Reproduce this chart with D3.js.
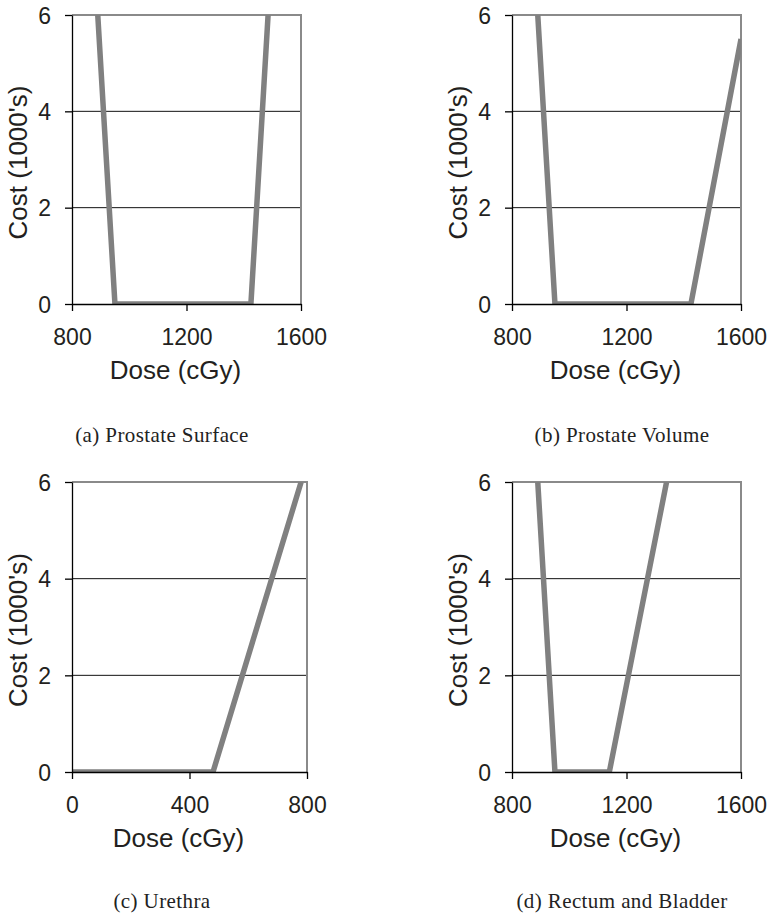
<!DOCTYPE html>
<html>
<head>
<meta charset="utf-8">
<script src="https://cdn.jsdelivr.net/npm/d3@7"></script>
<style>
  body { margin: 0; background: #fff; }
  svg text { font-family: "Liberation Sans", Arial, sans-serif; fill: #231f20; }
  svg text.caption { font-family: "Liberation Serif", "DejaVu Serif", serif; fill: #222; }
</style>
</head>
<body>
<div id="viz"></div>
<script>
const width = 770;
const height = 920;

// values: [dose (cGy), cost (1000's)]
const captions = ['(a) Prostate Surface', '(b) Prostate Volume', '(c) Urethra', '(d) Rectum and Bladder'];
const xDomains = [[800, 1600], [800, 1600], [0, 800], [800, 1600]];
const xTicks = [[800, 1200, 1600], [800, 1200, 1600], [0, 400, 800], [800, 1200, 1600]];
const yTicks = [0, 2, 4, 6];
const surfaceCost = [[890, 6], [950, 0], [1425, 0], [1485, 6]];
const volumeCost = [[890, 6], [950, 0], [1425, 0], [1600, 5.5]];
const urethraCost = [[0, 0], [480, 0], [780, 6]];
const rectumCost = [[890, 6], [950, 0], [1140, 0], [1340, 6]];
const series = [surfaceCost, volumeCost, urethraCost, rectumCost];

// plot boxes for each panel
const boxes = [
  {left: 72, right: 301, top: 15, bottom: 304, capX: 162, capY: 442},
  {left: 512, right: 741, top: 15, bottom: 304, capX: 622, capY: 442},
  {left: 72, right: 307, top: 482, bottom: 772, capX: 162, capY: 908},
  {left: 512, right: 741, top: 482, bottom: 772, capX: 622, capY: 908}
];

const svg = d3.select('#viz')
  .append('svg')
    .attr('width', width)
    .attr('height', height);

boxes.forEach((b, i) => {
  const x = d3.scaleLinear().domain(xDomains[i]).range([b.left, b.right]);
  const y = d3.scaleLinear().domain([0, 6]).range([b.bottom, b.top]);
  const g = svg.append('g');

  // gridlines at 2 and 4
  g.selectAll('line.grid')
    .data(yTicks.filter(t => t > 0 && t < 6))
    .join('line')
      .attr('x1', b.left).attr('x2', b.right)
      .attr('y1', d => y(d)).attr('y2', d => y(d))
      .attr('stroke', '#111').attr('stroke-width', 1);

  // top + right border (grey)
  g.append('path')
    .attr('d', `M${b.left},${b.top}H${b.right}V${b.bottom}`)
    .attr('fill', 'none')
    .attr('stroke', '#8a8a8a')
    .attr('stroke-width', 2);

  // clip the data line to the plot area
  g.append('clipPath').attr('id', 'clip' + i)
    .append('rect')
      .attr('x', b.left).attr('y', b.top)
      .attr('width', b.right - b.left).attr('height', b.bottom - b.top);

  const line = d3.line().x(d => x(d[0])).y(d => y(d[1]));
  g.append('path')
    .datum(series[i])
    .attr('clip-path', `url(#clip${i})`)
    .attr('d', line)
    .attr('fill', 'none')
    .attr('stroke', '#808080')
    .attr('stroke-width', 5.5)
    .attr('stroke-linejoin', 'miter');

  // axes
  const xAxis = g.append('g')
    .attr('transform', `translate(0,${b.bottom})`)
    .call(d3.axisBottom(x).tickValues(xTicks[i]).tickFormat(d3.format('d')).tickSize(7).tickSizeOuter(0));
  const yAxis = g.append('g')
    .attr('transform', `translate(${b.left},0)`)
    .call(d3.axisLeft(y).tickValues(yTicks).tickFormat(d3.format('d')).tickSize(7).tickSizeOuter(0));
  [xAxis, yAxis].forEach(a => {
    a.select('.domain').attr('stroke', '#000').attr('stroke-width', 1.3);
    a.selectAll('.tick line').attr('stroke', '#000').attr('stroke-width', 1.3);
    a.selectAll('.tick text').style('font-size', '23px').attr('fill', '#231f20');
  });
  xAxis.selectAll('.tick text').attr('y', 25).attr('dy', '0.71em');
  yAxis.selectAll('.tick text').attr('x', -21).attr('dy', '0.36em');

  // axis titles
  g.append('text')
    .attr('x', (b.left + b.right) / 2 - 11)
    .attr('y', b.bottom + 75)
    .attr('text-anchor', 'middle')
    .style('font-size', '26px')
    .text('Dose (cGy)');
  g.append('text')
    .attr('transform', `translate(${b.left - 45},${(b.top + b.bottom) / 2 + 3}) rotate(-90)`)
    .attr('text-anchor', 'middle')
    .style('font-size', '26px')
    .text("Cost (1000's)");

  // caption
  g.append('text')
    .attr('class', 'caption')
    .attr('x', b.capX)
    .attr('y', b.capY)
    .attr('text-anchor', 'middle')
    .style('font-size', '21px')
    .style('letter-spacing', '0.4px')
    .text(captions[i]);
});
</script>
</body>
</html>
